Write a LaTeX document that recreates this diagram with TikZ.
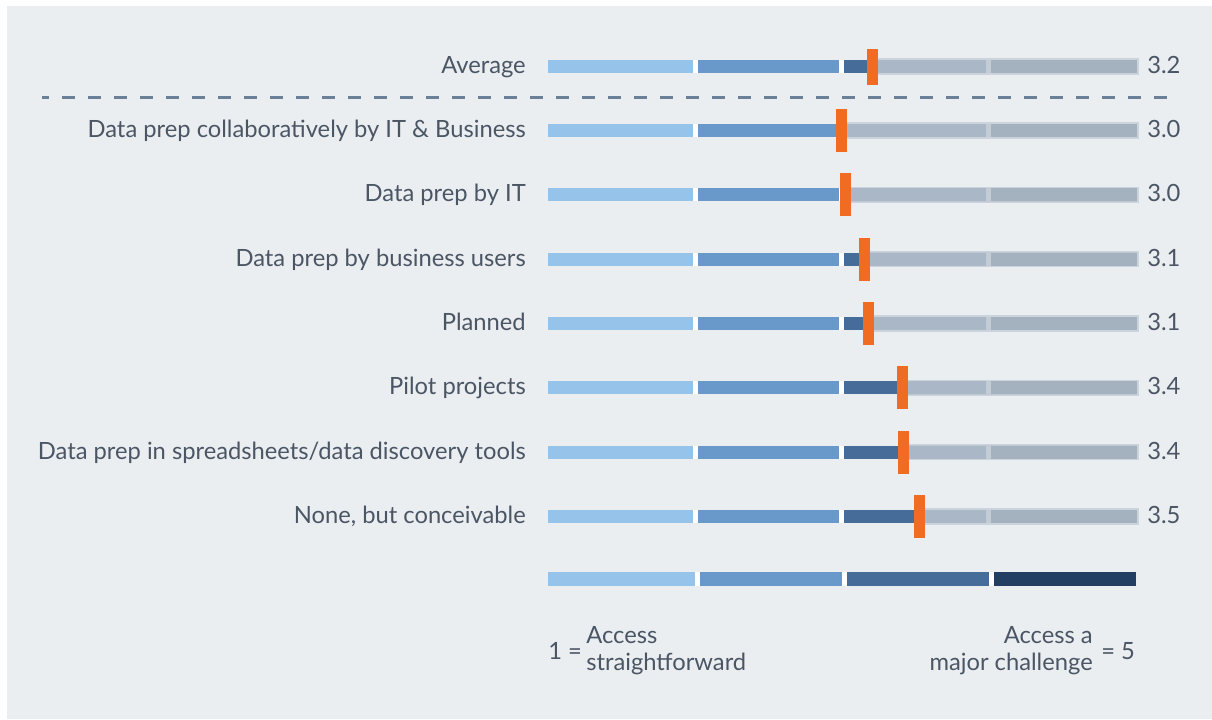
\documentclass[tikz,border=0pt]{standalone}
\usepackage{fontspec}
\setmainfont{Lato}
\usepackage{tikz}

\definecolor{panel}{HTML}{EBEEF1}
\definecolor{segA}{HTML}{95C3EA}
\definecolor{segB}{HTML}{6899CA}
\definecolor{segC}{HTML}{466C9A}
\definecolor{segD}{HTML}{223F63}
\definecolor{greyout}{RGB}{186,196,207}
\definecolor{greyline}{HTML}{CBD3DC}
\definecolor{mark}{HTML}{F06C22}
\definecolor{ink}{HTML}{4B5665}
\definecolor{dashcol}{HTML}{6A8099}

\begin{document}
\begin{tikzpicture}[x=0.75pt, y=-0.75pt,
    txt/.style={inner sep=0pt, text=ink, font=\fontsize{17.8}{20.25}\selectfont},
    marker/.style={fill=mark, inner sep=0pt, minimum width=8.25pt, minimum height=32.25pt}]
            \useasboundingbox (0,0) rectangle (1212,719);
            \fill[white] (0,0) rectangle (1212,719);
            \fill[panel] (7,6) rectangle (1212,719);
            % dashed separator under the average
            \draw[dashcol, line width=2.25pt, dash pattern=on 9.75pt off 9.75pt, dash phase=4.5pt] (42,97) -- (1180,97);
            % rows: name / label / value / marker position / y
            \foreach \i/\lab/\num/\pos/\yy in {0/Average/3.2/872/66.5,
                1/Data prep collaboratively by IT \& Business/3.0/841.5/130.5,
                2/Data prep by IT/3.0/845.5/194.8,
                3/Data prep by business users/3.1/864.5/259.1,
                4/Planned/3.1/868.5/323.5,
                5/Pilot projects/3.4/902/387.8,
                6/{Data prep in spreadsheets/data discovery tools}/3.4/903.5/452.1,
                7/{None, but conceivable}/3.5/919/516.5} {
                \fill[white] (548,\yy-6.5) rectangle (1137,\yy+6.5);
                \fill[segA] (548,\yy-6.5) rectangle (693,\yy+6.5);
                \fill[segB] (698,\yy-6.5) rectangle (839,\yy+6.5);
                \fill[segC] (844,\yy-6.5) rectangle (986,\yy+6.5);
                \fill[segD] (991,\yy-6.5) rectangle (1137,\yy+6.5);
                \fill[greyout, fill opacity=0.86] (\pos+5,\yy-7.5) rectangle (1138,\yy+7.5);
                \draw[greyline, line width=1.1pt] (\pos+5,\yy-7.5) -- (1138,\yy-7.5) -- (1138,\yy+7.5) -- (\pos+5,\yy+7.5);
                \node[txt, anchor=base east] (lab\i) at (526,\yy+7) {\lab};
                \node[txt, anchor=base west] (num\i) at (1147,\yy+7) {\num};
            }
            \node[marker, minimum height=27pt] (m0) at (872,66.5) {};
            \foreach \i/\pos/\yy in {1/841.5/130.5, 2/845.5/194.8, 3/864.5/259.1, 4/868.5/323.5,
                5/902/387.8, 6/903.5/452.1, 7/919/516.5}
                \node[marker] (m\i) at (\pos,\yy) {};
            % legend scale
            \fill[white] (548,572) rectangle (1136,586);
            \fill[segA] (548,572) rectangle (695,586);
            \fill[segB] (700,572) rectangle (842,586);
            \fill[segC] (847,572) rectangle (989,586);
            \fill[segD] (994,572) rectangle (1136,586);
            \node[txt, anchor=west] (one) at (548,651) {1 =};
            \node[txt, anchor=west, align=left] (easy) at (586,651) {Access\\straightforward};
            \node[txt, anchor=east, align=right] (hard) at (1093,651) {Access a\\major challenge};
            \node[txt, anchor=west] (five) at (1101,651) {= 5};
\end{tikzpicture}
\end{document}
